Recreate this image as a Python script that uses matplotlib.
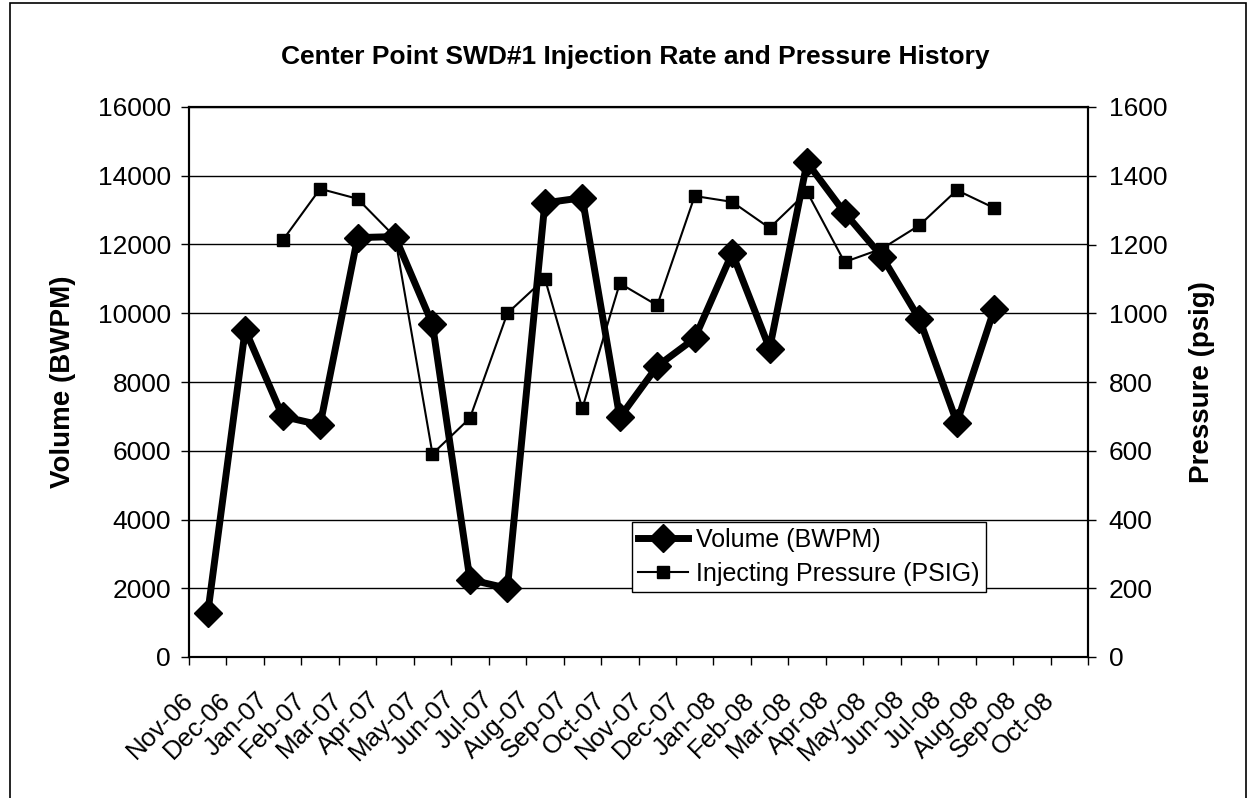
import numpy as np
import matplotlib
matplotlib.use('Agg')
import matplotlib.pyplot as plt
import matplotlib.transforms as mtransforms
from matplotlib.patches import Rectangle

plt.rcParams['font.family'] = ['Liberation Sans', 'DejaVu Sans']

months = ['Nov-06', 'Dec-06', 'Jan-07', 'Feb-07', 'Mar-07', 'Apr-07', 'May-07', 'Jun-07',
          'Jul-07', 'Aug-07', 'Sep-07', 'Oct-07', 'Nov-07', 'Dec-07', 'Jan-08', 'Feb-08',
          'Mar-08', 'Apr-08', 'May-08', 'Jun-08', 'Jul-08', 'Aug-08', 'Sep-08', 'Oct-08']

# volume from Nov-06 to Aug-08
volume = [1270, 9520, 7000, 6750, 12200, 12230, 9680, 2250, 2000, 13210, 13360, 6970,
          8460, 9270, 11750, 8970, 14390, 12930, 11650, 9830, 6820, 10130]

# pressure from Jan-07 to Aug-08
pressure = [1212, 1362, 1333, 1222, 591, 695, 1000, 1101, 723, 1087,
            1023, 1341, 1324, 1248, 1353, 1149, 1188, 1256, 1358, 1306]
pressure_start = 2

W, H = 1250, 798
fig = plt.figure(figsize=(W / 100, H / 100), dpi=100)
ax = fig.add_axes([189 / W, 1 - 657 / H, 899 / W, 550 / H])
ax2 = ax.twinx()

xv = np.arange(len(volume)) + 0.5
xp = np.arange(len(pressure)) + pressure_start + 0.5

l1, = ax.plot(xv, volume, color='black', lw=5, marker='D', markersize=14,
              label='Volume (BWPM)', zorder=3)
l2, = ax2.plot(xp, pressure, color='black', lw=1.5, marker='s', markersize=9,
               label='Injecting Pressure (PSIG)', zorder=3)

ax.set_xlim(0, len(months))
ax.set_ylim(0, 16000)
ax2.set_ylim(0, 1600)
ax.set_yticks(np.arange(0, 16001, 2000))
ax2.set_yticks(np.arange(0, 1601, 200))
ax.yaxis.grid(True, color='black', lw=1)
ax.set_axisbelow(True)

ax.set_xticks(np.arange(0, len(months) + 1))
ax.set_xticklabels([])
ax.set_xticks(np.arange(len(months)) + 0.5, minor=True)
ax.set_xticklabels(months, minor=True, rotation=45, ha='right', va='top', fontsize=18.5)
ax.tick_params(axis='x', which='major', direction='out', length=6, width=1, color='black')
ax.tick_params(axis='x', which='minor', length=0, pad=22)
offset = mtransforms.ScaledTranslation(-0.10, 0, fig.dpi_scale_trans)
for lab in ax.get_xticklabels(minor=True):
    lab.set_transform(lab.get_transform() + offset)

ax.tick_params(axis='y', direction='out', length=6, width=1, labelsize=19, pad=7)
ax2.tick_params(axis='y', direction='out', length=6, width=1, labelsize=19, pad=9)

for a in (ax, ax2):
    for s in a.spines.values():
        s.set_linewidth(1.5)
        s.set_color('black')

fig.text(635 / W, 1 - 57 / H, 'Center Point SWD#1 Injection Rate and Pressure History',
         ha='center', va='center', fontsize=19, fontweight='bold')
fig.text(63 / W, 1 - 382 / H, 'Volume (BWPM)', rotation=90, ha='center', va='center',
         fontsize=20, fontweight='bold')
fig.text(1202 / W, 1 - 382 / H, 'Pressure (psig)', rotation=90, ha='center', va='center',
         fontsize=20, fontweight='bold')

leg = ax2.legend([l1, l2], [l1.get_label(), l2.get_label()], loc='lower left',
                 bbox_to_anchor=(0.493, 0.118), fancybox=False, edgecolor='black',
                 framealpha=1, fontsize=18, handlelength=2.0, borderpad=0.25,
                 labelspacing=0.4, handletextpad=0.3, borderaxespad=0)
leg.get_frame().set_linewidth(1)

fig.patches.append(Rectangle((10 / W, -0.01), 1236 / W, 1.01 - 3 / H, transform=fig.transFigure,
                             fill=False, edgecolor='black', lw=1.2))

fig.savefig('out.png', dpi=100)
